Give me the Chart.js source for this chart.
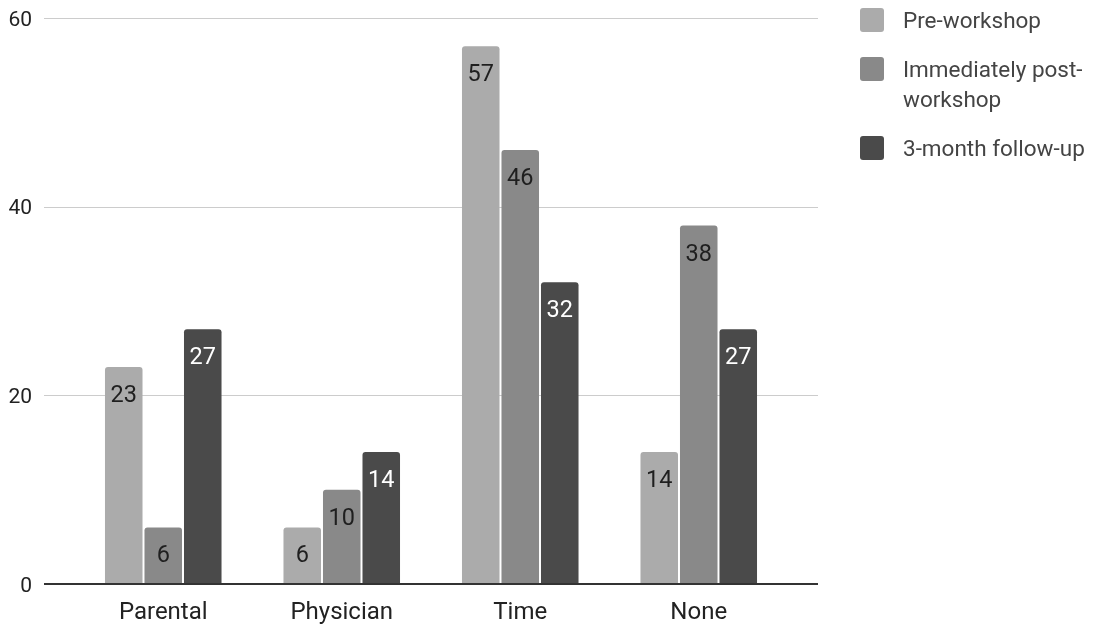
<!DOCTYPE html>
<html>
<head>
<meta charset="utf-8">
<script src="https://cdn.jsdelivr.net/npm/chart.js@4.4.1/dist/chart.umd.min.js"></script>
<style>
  html, body { margin: 0; padding: 0; background: #fff; }
  #wrap { position: relative; width: 1094px; height: 627px; overflow: hidden; }
  #chart { position: absolute; left: 0; top: 0; }
  .legend-item { position: absolute; left: 860px; font-family: Roboto, sans-serif; font-size: 22.5px; color: #444; }
  .legend-swatch { position: absolute; left: 0; width: 24px; height: 24px; border-radius: 3px; }
  .legend-text { position: absolute; left: 43px; line-height: 30px; white-space: nowrap; }
</style>
</head>
<body>
<div id="wrap">
  <canvas id="chart" width="1094" height="627"></canvas>
  <div id="legend"></div>
</div>
<script>
// Barriers reported at each survey point
const categories = ['Parental', 'Physician', 'Time', 'None'];
const seriesNames = ['Pre-workshop', 'Immediately post-workshop', '3-month follow-up'];
const legendLines = [['Pre-workshop'], ['Immediately post-', 'workshop'], ['3-month follow-up']];
const preWorkshop = [23, 6, 57, 14];
const postWorkshop = [6, 10, 46, 38];
const followUp = [27, 14, 32, 27];
const yTicks = [0, 20, 40, 60];

const barColors = ['#ababab', '#898989', '#4a4a4a'];
const valueColors = ['#1f1f1f', '#1f1f1f', '#ffffff'];
const seriesValues = [preWorkshop, postWorkshop, followUp];

// Horizontal grid lines spanning the full plot width, behind the bars
const gridPlugin = {
  id: 'wideGrid',
  beforeDatasetsDraw(chart) {
    const ctx = chart.ctx;
    const y = chart.scales.y;
    ctx.save();
    ctx.strokeStyle = '#cccccc';
    ctx.lineWidth = 1;
    yTicks.forEach(v => {
      if (v === 0) return;
      const py = Math.round(y.getPixelForValue(v)) + 0.5;
      ctx.beginPath();
      ctx.moveTo(44, py);
      ctx.lineTo(818, py);
      ctx.stroke();
    });
    ctx.restore();
  },
  afterDatasetsDraw(chart) {
    const ctx = chart.ctx;
    const y = chart.scales.y;
    ctx.save();
    // baseline at zero
    const py0 = y.getPixelForValue(0);
    ctx.strokeStyle = '#333333';
    ctx.lineWidth = 2;
    ctx.beginPath();
    ctx.moveTo(44, py0);
    ctx.lineTo(818, py0);
    ctx.stroke();
    // value labels inside the top of each bar
    ctx.font = '23.5px Roboto';
    ctx.textAlign = 'center';
    ctx.textBaseline = 'alphabetic';
    chart.data.datasets.forEach((ds, i) => {
      const meta = chart.getDatasetMeta(i);
      ctx.fillStyle = valueColors[i];
      meta.data.forEach((bar, j) => {
        ctx.fillText(String(ds.data[j]), bar.x, bar.y + 35);
      });
    });
    ctx.restore();
  }
};

function draw() {
  Chart.defaults.font.family = 'Roboto';
  new Chart(document.getElementById('chart'), {
    type: 'bar',
    data: {
      labels: categories,
      datasets: seriesNames.map((name, i) => ({
        label: name,
        data: seriesValues[i],
        backgroundColor: barColors[i],
        borderRadius: 3,
        borderSkipped: 'start',
        categoryPercentage: 0.664,
        barPercentage: 0.95
      }))
    },
    options: {
      responsive: false,
      animation: false,
      devicePixelRatio: 1,
      layout: { padding: { top: 18, right: 306, left: 0, bottom: 0 } },
      plugins: { legend: { display: false }, tooltip: { enabled: false } },
      scales: {
        x: {
          grid: { display: false },
          border: { display: false },
          ticks: { color: '#222222', font: { size: 24 }, padding: 7 },
          afterFit(scale) { scale.height = 43; }
        },
        y: {
          min: 0,
          max: 60,
          grid: { display: false, drawTicks: false },
          border: { display: false },
          ticks: {
            stepSize: 20,
            color: '#222222',
            font: { size: 21 },
            padding: 42,
            labelOffset: 2.5,
            callback: (v) => yTicks.includes(v) ? String(v) : ''
          },
          afterFit(scale) {
            // fixed axis width; label gap should not push the plot down
            scale.width = 74;
            scale.paddingTop = 0;
            scale.paddingBottom = 0;
          }
        }
      }
    },
    plugins: [gridPlugin]
  });

  // Legend on the right
  const legend = document.getElementById('legend');
  const centers = [20, 69, 148];
  seriesNames.forEach((name, i) => {
    const item = document.createElement('div');
    item.className = 'legend-item';
    item.style.top = (centers[i] - 15) + 'px';
    const sw = document.createElement('div');
    sw.className = 'legend-swatch';
    sw.style.background = barColors[i];
    sw.style.top = '3px';
    const tx = document.createElement('div');
    tx.className = 'legend-text';
    tx.innerHTML = legendLines[i].join('<br>');
    item.appendChild(sw);
    item.appendChild(tx);
    legend.appendChild(item);
  });
}

if (document.fonts && document.fonts.load) {
  Promise.all([document.fonts.load('21px Roboto'), document.fonts.load('24px Roboto')]).then(draw, draw);
} else {
  draw();
}
</script>
</body>
</html>
